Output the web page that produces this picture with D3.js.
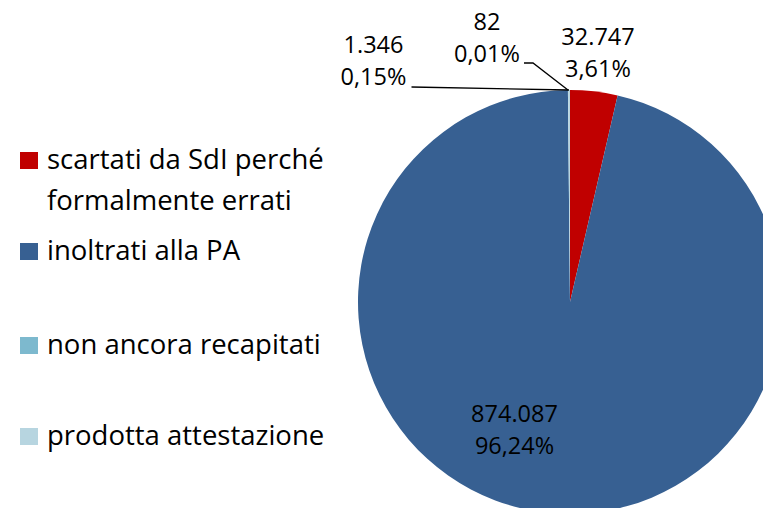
<!DOCTYPE html>
<html>
<head>
<meta charset="utf-8">
<script src="https://cdn.jsdelivr.net/npm/d3@7"></script>
<style>
  html, body { margin: 0; padding: 0; background: #fff; }
  text { font-family: "Open Sans", "Noto Sans", sans-serif; fill: #000; }
</style>
</head>
<body>
<div id="chart"></div>
<script>
// data
var categories = ["scartati da SdI perché formalmente errati", "inoltrati alla PA", "non ancora recapitati", "prodotta attestazione"];
var legendLines = [["scartati da SdI perché", "formalmente errati"], ["inoltrati alla PA"], ["non ancora recapitati"], ["prodotta attestazione"]];
var values = [32747, 874087, 82, 1346];
var valueLabels = ["32.747", "874.087", "82", "1.346"];
var percentLabels = ["3,61%", "96,24%", "0,01%", "0,15%"];
var colors = ["#C00000", "#376092", "#7DB9CE", "#B7D5E0"];

var width = 763, height = 508;
var cx = 570, cy = 302, radius = 212;

var svg = d3.select("#chart").append("svg")
	.attr("width", width)
	.attr("height", height);

var pie = d3.pie().sort(null).value(function(d){ return d; });
var arcs = pie(values);
var arc = d3.arc().innerRadius(0).outerRadius(radius);

var g = svg.append("g").attr("transform", "translate(" + cx + "," + cy + ")");

g.selectAll("path.slice")
	.data(arcs).enter()
	.append("path")
	.attr("class", "slice")
	.attr("d", arc)
	.attr("fill", function(d, i){ return colors[i]; });

// label centres (relative to pie centre) – placed as in the original
var labelAt = [[28, -249], [-55.5, 128], [-83, -264], [-196.5, -241]];
var lineGap = 32;

var labels = g.selectAll("g.label")
	.data(arcs).enter()
	.append("g")
	.attr("class", "label")
	.attr("transform", function(d, i){ return "translate(" + labelAt[i][0] + "," + labelAt[i][1] + ")"; });

labels.append("text")
	.attr("text-anchor", "middle")
	.attr("font-size", "23.5px")
	.attr("y", -lineGap / 2 + 8)
	.text(function(d, i){ return valueLabels[i]; });

labels.append("text")
	.attr("text-anchor", "middle")
	.attr("font-size", "23.5px")
	.attr("y", lineGap / 2 + 8)
	.text(function(d, i){ return percentLabels[i]; });

// leader lines for the tiny slices
function edgePoint(d){
	var a = (d.startAngle + d.endAngle) / 2;
	return [Math.sin(a) * radius, -Math.cos(a) * radius];
}

var p82 = edgePoint(arcs[2]);
g.append("path")
	.attr("d", d3.line()([[labelAt[2][0] + 37, -239], [labelAt[2][0] + 46, -239], p82]))
	.attr("fill", "none")
	.attr("stroke", "#000")
	.attr("stroke-width", 1.3);

var p1346 = edgePoint(arcs[3]);
g.append("path")
	.attr("d", d3.line()([[labelAt[3][0] + 38, -215], p1346]))
	.attr("fill", "none")
	.attr("stroke", "#000")
	.attr("stroke-width", 1.3);

// legend
var rowY = [152, 243, 337, 428];
var legend = svg.selectAll("g.legend")
	.data(categories).enter()
	.append("g")
	.attr("class", "legend")
	.attr("transform", function(d, i){ return "translate(20," + rowY[i] + ")"; });

legend.append("rect")
	.attr("width", 18)
	.attr("height", 17)
	.attr("fill", function(d, i){ return colors[i]; });

legend.each(function(d, i){
	var t = d3.select(this).append("text")
		.attr("x", 27)
		.attr("font-size", "27.5px");
	legendLines[i].forEach(function(line, j){
		t.append("tspan")
			.attr("x", 27)
			.attr("y", 17 + j * 41)
			.text(line);
	});
});
</script>
</body>
</html>
